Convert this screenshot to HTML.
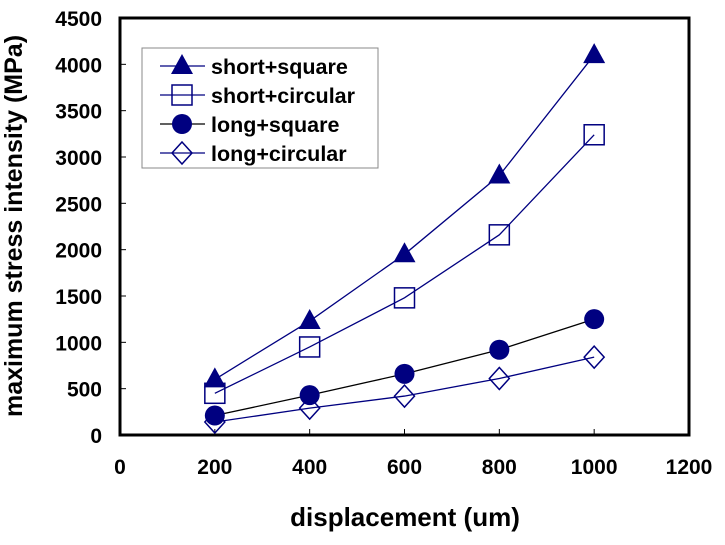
<!DOCTYPE html>
<html><head><meta charset="utf-8"><style>
body{margin:0;background:#fff;}
svg text{font-family:"Liberation Sans",Arial,sans-serif;font-weight:bold;}
</style></head><body>
<svg id="chart" width="725" height="540" xmlns="http://www.w3.org/2000/svg">
<rect width="725" height="540" fill="#fff"/>
<g id="grid"></g>
<rect x="120" y="18" width="569" height="417" fill="none" stroke="#000" stroke-width="3"/>
<g id="series"></g>
<text x="22" y="226" font-size="25" text-anchor="middle" transform="rotate(-90 22 226)">maximum stress intensity (MPa)</text>
<text x="405" y="526" font-size="26" text-anchor="middle">displacement (um)</text>
<g>
<rect x="142" y="48" width="236" height="120" fill="#fff" stroke="#888" stroke-width="1"/>
<g id="legend"></g>
</g>
</svg>
<script>
const xValues=[200,400,600,800,1000];
const shortSquare=[600,1230,1950,2800,4100];
const shortCircular=[450,950,1480,2160,3240];
const longSquare=[210,430,660,920,1250];
const longCircular=[140,290,420,610,840];
const xTicks=[0,200,400,600,800,1000,1200];
const yTicks=[0,500,1000,1500,2000,2500,3000,3500,4000,4500];
const seriesNames=["short+square","short+circular","long+square","long+circular"];
const NS="http://www.w3.org/2000/svg";
const X0=120,X1=689,Y0=435,Y1=18;
function sx(v){return X0+(v/1200)*(X1-X0);}
function sy(v){return Y0-(v/4500)*(Y0-Y1);}
function mk(tag,attrs,parent){const e=document.createElementNS(NS,tag);for(const k in attrs)e.setAttribute(k,attrs[k]);parent.appendChild(e);return e;}
const grid=document.getElementById('grid');
xTicks.forEach(t=>{
  const tk=mk('line',{x1:sx(t),x2:sx(t),y1:Y0,y2:Y0-6,stroke:'#000','stroke-width':1},grid);
  
  
  const tx=mk('text',{x:sx(t),y:474,'font-size':21,'text-anchor':'middle'},grid);
  tx.textContent=t;
  
  
});
yTicks.forEach(t=>{
  const tk=mk('line',{x1:X0,x2:X0+6,y1:sy(t),y2:sy(t),stroke:'#000','stroke-width':1},grid);
  
  
  const tx=mk('text',{x:102,y:sy(t)+8,'font-size':21,'text-anchor':'end'},grid);
  tx.textContent=t;
  
  
});
const NAVY='#000080';
function marker(type,x,y,p){
  let e;
  if(type==='tri') e=mk('polygon',{points:`${x},${y-12} ${x-11},${y+8} ${x+11},${y+8}`,fill:NAVY},p);
  else if(type==='sq') e=mk('rect',{x:x-10,y:y-10,width:20,height:20,fill:'#fff','fill-opacity':0,stroke:NAVY,'stroke-width':1.5},p);
  else if(type==='circ') e=mk('ellipse',{cx:x,cy:y,rx:10,ry:10,fill:NAVY},p);
  else e=mk('polygon',{points:`${x},${y-11} ${x+10},${y} ${x},${y+11} ${x-10},${y}`,fill:'none',stroke:NAVY,'stroke-width':1.5},p);
  return e;
}
const all=[[shortSquare,'tri',NAVY],[shortCircular,'sq',NAVY],[longSquare,'circ','#000'],[longCircular,'dia',NAVY]];
const sg=document.getElementById('series');
all.forEach((s,i)=>{
  const g=mk('g',{},sg);
  
  
  const pts=s[0].map((v,j)=>sx(xValues[j])+','+sy(v)).join(' ');
  mk('polyline',{points:pts,fill:'none',stroke:s[2],'stroke-width':1.3},g);
  s[0].forEach((v,j)=>{
    const m=marker(s[1],sx(xValues[j]),sy(v),g);
    
    
  });
});
const lg=document.getElementById('legend');
all.forEach((s,i)=>{
  const y=66+i*29;
  const g=mk('g',{},lg);
  
  
  mk('line',{x1:160,x2:205,y1:y,y2:y,stroke:s[2],'stroke-width':1.3},g);
  marker(s[1],182,y,g);
  const t=mk('text',{x:211,y:y+8,'font-size':21.5},g);
  t.textContent=seriesNames[i];
});
</script>
</body></html>
